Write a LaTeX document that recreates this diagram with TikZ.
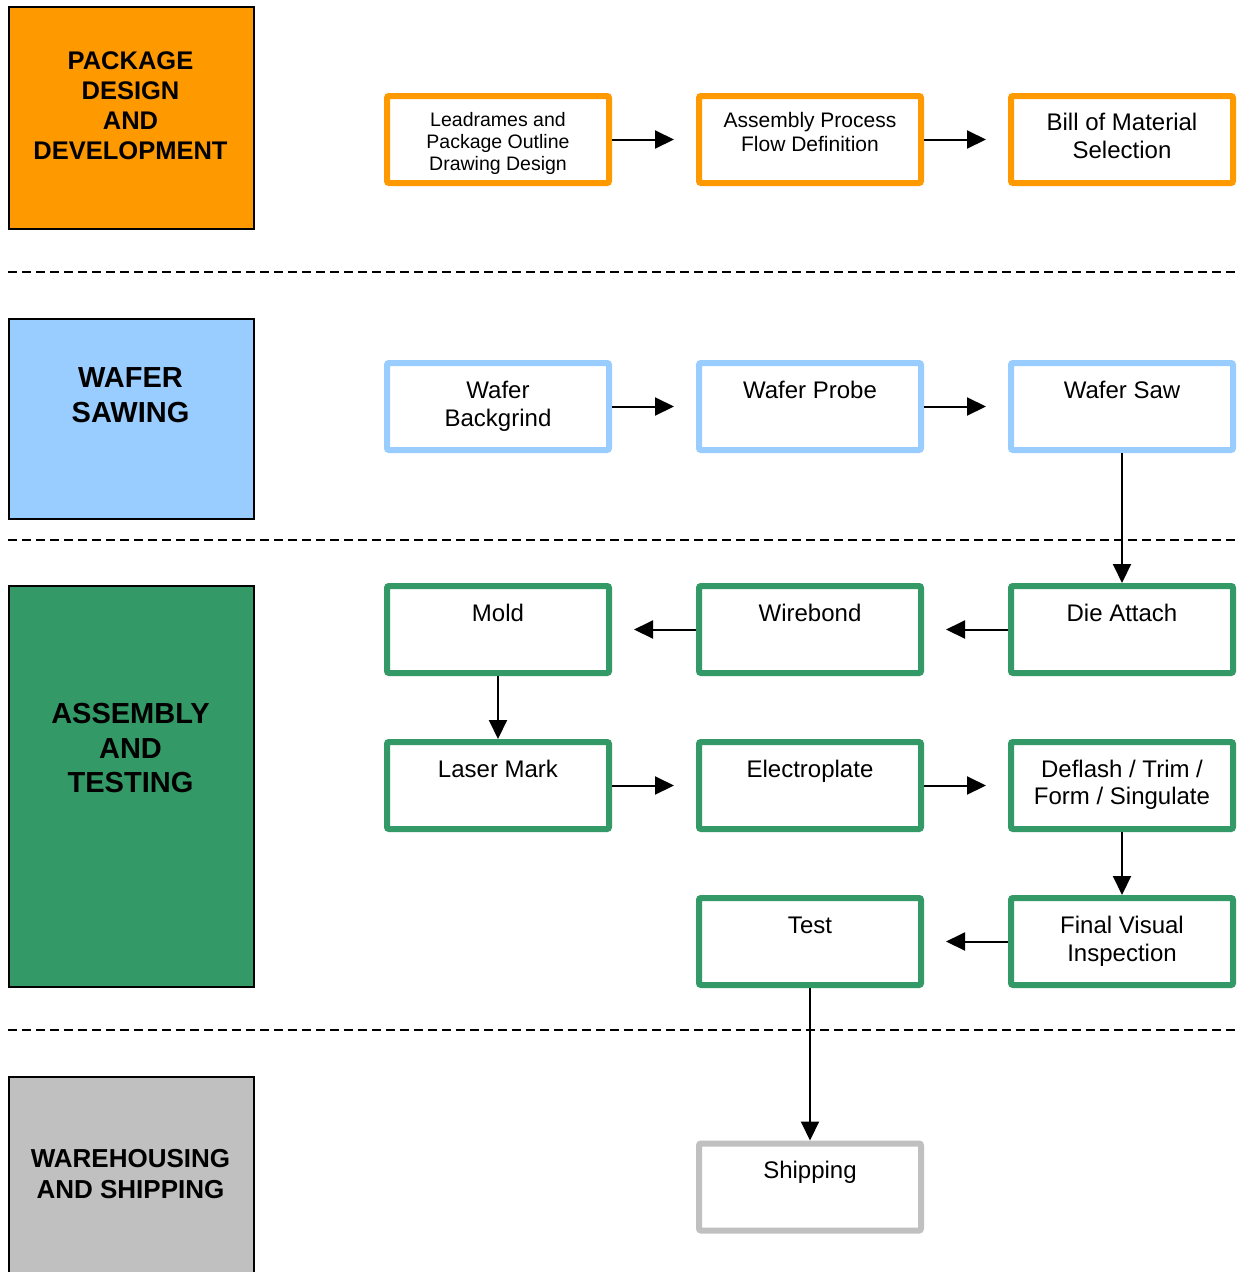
\documentclass[tikz,border=0pt]{standalone}
\usepackage{fontspec}
\setmainfont{Liberation Sans}
\usetikzlibrary{arrows.meta}
\definecolor{cOrange}{HTML}{FF9900}
\definecolor{cBlue}{HTML}{99CCFF}
\definecolor{cGreen}{HTML}{339966}
\definecolor{cGray}{HTML}{C0C0C0}
\newcommand\ptx[4]{\parbox[c][81pt][t]{216pt}{\centering\fontsize{#1}{#2}\selectfont\rule{0pt}{#3}#4\par}}
\begin{document}
\begin{tikzpicture}[x=1pt,y=-1pt,
  hdr/.style={draw=black,line width=1.5pt,minimum width=245pt,inner sep=0pt,anchor=north west},
  htext/.style={font=\bfseries,align=center,inner sep=0pt,text=black},
  proc/.style={draw,line width=6pt,rounded corners=2pt,minimum width=222pt,minimum height=87pt,inner sep=0pt,fill=white},
  flow/.style={-{Triangle[length=19pt,width=18pt]},line width=2pt,black},
  hflow/.style={flow,shorten >=22pt},
  vflow/.style={flow},
  sepline/.style={dash pattern=on 9pt off 5pt,line width=1.5pt,black}
]
\useasboundingbox (0,0) rectangle (1243,1272);
\fill[white] (0,0) rectangle (1243,1272);

% header boxes
\node[hdr,fill=cOrange,minimum height=222pt] (hpkg) at (8,6) {};
\node[hdr,fill=cBlue,minimum height=200pt] (hwaf) at (8,318) {};
\node[hdr,fill=cGreen,minimum height=401pt] (hasm) at (8,585) {};
\node[hdr,fill=cGray,minimum height=215pt] (hwar) at (8,1076) {};

\node[htext,font=\bfseries\fontsize{25.5}{30}\selectfont] (tpkg) at (130.5,105.5) {PACKAGE\\DESIGN\\AND\\DEVELOPMENT};
\node[htext,font=\bfseries\fontsize{29}{35}\selectfont] (twaf) at (130.5,395.5) {WAFER\\SAWING};
\node[htext,font=\bfseries\fontsize{29}{34.5}\selectfont] (tasm) at (130.5,748.5) {ASSEMBLY\\AND\\TESTING};
\node[htext,font=\bfseries\fontsize{26}{31}\selectfont] (twar) at (130.5,1174.5) {WAREHOUSING\\AND SHIPPING};

% separators
\draw[sepline] (8,272) -- (1235,272);
\draw[sepline] (8,540) -- (1235,540);
\draw[sepline] (8,1030) -- (1235,1030);

% row 1
\node[proc,draw=cOrange] (lead) at (498,139.5) {\ptx{19.5}{22}{27pt}{Leadrames and\\Package Outline\\Drawing Design}};
\node[proc,draw=cOrange] (apf) at (810,139.5) {\ptx{21}{24}{28.5pt}{Assembly Process\\Flow Definition}};
\node[proc,draw=cOrange] (bom) at (1122,139.5) {\ptx{24}{28}{31.5pt}{Bill of Material\\Selection}};

% row 2
\node[proc,draw=cBlue] (bg) at (498,406.5) {\ptx{24}{28}{32pt}{Wafer\\Backgrind}};
\node[proc,draw=cBlue] (probe) at (810,406.5) {\ptx{24}{28}{32pt}{Wafer Probe}};
\node[proc,draw=cBlue] (saw) at (1122,406.5) {\ptx{24}{28}{32pt}{Wafer Saw}};

% row 3
\node[proc,draw=cGreen] (mold) at (498,629.5) {\ptx{24}{28}{32pt}{Mold}};
\node[proc,draw=cGreen] (wire) at (810,629.5) {\ptx{24}{28}{32pt}{Wirebond}};
\node[proc,draw=cGreen] (die) at (1122,629.5) {\ptx{24}{28}{32pt}{Die Attach}};

% row 4
\node[proc,draw=cGreen] (laser) at (498,785.5) {\ptx{24}{28}{32pt}{Laser Mark}};
\node[proc,draw=cGreen] (elec) at (810,785.5) {\ptx{24}{28}{32pt}{Electroplate}};
\node[proc,draw=cGreen] (defl) at (1122,785.5) {\ptx{24}{27}{32pt}{Deflash / Trim /\\Form / Singulate}};

% row 5
\node[proc,draw=cGreen] (test) at (810,941.5) {\ptx{24}{28}{32pt}{Test}};
\node[proc,draw=cGreen] (fvi) at (1122,941.5) {\ptx{24}{28}{32pt}{Final Visual\\Inspection}};

% shipping
\node[proc,draw=cGray] (ship) at (810,1187) {\ptx{24}{28}{32pt}{Shipping}};

% connectors
\draw[hflow] (lead.east) -- (apf.west);
\draw[hflow] (apf.east) -- (bom.west);
\draw[hflow] (bg.east) -- (probe.west);
\draw[hflow] (probe.east) -- (saw.west);
\draw[vflow] (saw.south) -- (die.north);
\draw[hflow] (die.west) -- (wire.east);
\draw[hflow] (wire.west) -- (mold.east);
\draw[vflow] (mold.south) -- (laser.north);
\draw[hflow] (laser.east) -- (elec.west);
\draw[hflow] (elec.east) -- (defl.west);
\draw[vflow] (defl.south) -- (fvi.north);
\draw[hflow] (fvi.west) -- (test.east);
\draw[vflow] (test.south) -- (ship.north);
\end{tikzpicture}
\end{document}
